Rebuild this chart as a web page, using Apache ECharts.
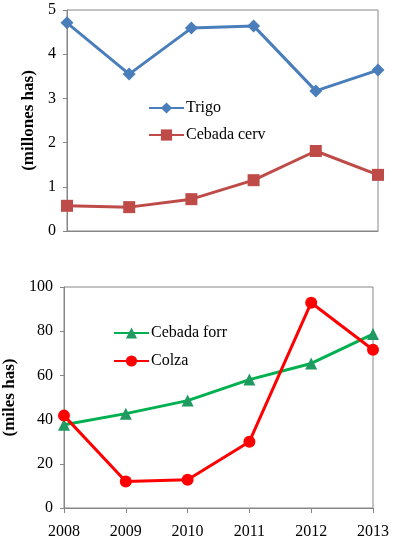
<!DOCTYPE html>
<html>
<head>
<meta charset="utf-8">
<script src="https://cdn.jsdelivr.net/npm/echarts@6/dist/echarts.min.js"></script>
<style>
  html, body { margin: 0; padding: 0; background: #fff; }
  #chart { width: 397px; height: 544px; }
</style>
</head>
<body>
<div id="chart"></div>
<script>
// Years on the x axis (shared by both panels)
const years = ['2008', '2009', '2010', '2011', '2012', '2013'];

// Top panel: millones has
const trigo = [4.71, 3.55, 4.59, 4.64, 3.17, 3.64];
const cebadaCerv = [0.57, 0.54, 0.72, 1.15, 1.81, 1.27];

// Bottom panel: miles has
const cebadaForr = [37.7, 42.7, 48.6, 58.1, 65.4, 78.7];
const colza = [41.8, 12.0, 12.8, 30.0, 92.9, 71.6];

const font = 'Liberation Serif';
const frame = '#868686';

const chart = echarts.init(document.getElementById('chart'));

function yAxis(gridIndex, max, interval, name, gap) {
    return {
        type: 'value',
        gridIndex: gridIndex,
        min: 0,
        max: max,
        interval: interval,
        name: name,
        nameLocation: 'middle',
        nameRotate: 90,
        nameGap: gap,
        nameTextStyle: { fontFamily: font, fontSize: 17, fontWeight: 'bold', color: '#000' },
        axisLine: { show: true, lineStyle: { color: frame } },
        axisTick: { show: true, length: 4, lineStyle: { color: frame } },
        axisLabel: { fontFamily: font, fontSize: 16, color: '#000', margin: 11 },
        splitLine: { show: false }
    };
}

const option = {
    animation: false,
    grid: [
        { left: 67, top: 10, width: 311, height: 221, show: true, borderColor: frame, borderWidth: 1, outerBoundsMode: 'none' },
        { left: 64, top: 287, width: 309, height: 221, show: true, borderColor: frame, borderWidth: 1, outerBoundsMode: 'none' }
    ],
    xAxis: [
        {
            type: 'category', gridIndex: 0, data: years, boundaryGap: false,
            axisLine: { lineStyle: { color: frame } },
            axisTick: { show: false },
            axisLabel: { show: false }
        },
        {
            type: 'category', gridIndex: 1, data: years, boundaryGap: false,
            axisLine: { lineStyle: { color: frame } },
            axisTick: { show: true, length: 5, lineStyle: { color: frame } },
            axisLabel: { fontFamily: font, fontSize: 16, color: '#000', margin: 16 }
        }
    ],
    yAxis: [
        yAxis(0, 5, 1, '(millones has)', 29),
        yAxis(1, 100, 20, '(miles has)', 45)
    ],
    legend: [
        {
            data: ['Trigo', 'Cebada cerv'],
            orient: 'vertical', left: 143, top: 95, itemGap: 11,
            itemWidth: 35, itemHeight: 14,
            textStyle: { fontFamily: font, fontSize: 16, color: '#000', padding: [0, 0, 0, -3] }
        },
        {
            data: ['Cebada forr', 'Colza'],
            orient: 'vertical', left: 108, top: 320, itemGap: 12,
            itemWidth: 35, itemHeight: 14,
            textStyle: { fontFamily: font, fontSize: 16, color: '#000', padding: [0, 0, 0, -3] }
        }
    ],
    series: [
        {
            name: 'Trigo', type: 'line', xAxisIndex: 0, yAxisIndex: 0, data: trigo,
            symbol: 'diamond', symbolSize: 13,
            lineStyle: { color: '#4a7ebb', width: 3 },
            itemStyle: { color: '#4a7ebb' }
        },
        {
            name: 'Cebada cerv', type: 'line', xAxisIndex: 0, yAxisIndex: 0, data: cebadaCerv,
            symbol: 'rect', symbolSize: 12,
            lineStyle: { color: '#be4b48', width: 3 },
            itemStyle: { color: '#be4b48' }
        },
        {
            name: 'Cebada forr', type: 'line', xAxisIndex: 1, yAxisIndex: 1, data: cebadaForr,
            symbol: 'triangle', symbolSize: 12,
            lineStyle: { color: '#00b050', width: 3 },
            itemStyle: { color: '#1f9a60' }
        },
        {
            name: 'Colza', type: 'line', xAxisIndex: 1, yAxisIndex: 1, data: colza,
            symbol: 'circle', symbolSize: 12,
            lineStyle: { color: '#ff0000', width: 3 },
            itemStyle: { color: '#ff0000' }
        }
    ]
};

chart.setOption(option);
</script>
</body>
</html>
